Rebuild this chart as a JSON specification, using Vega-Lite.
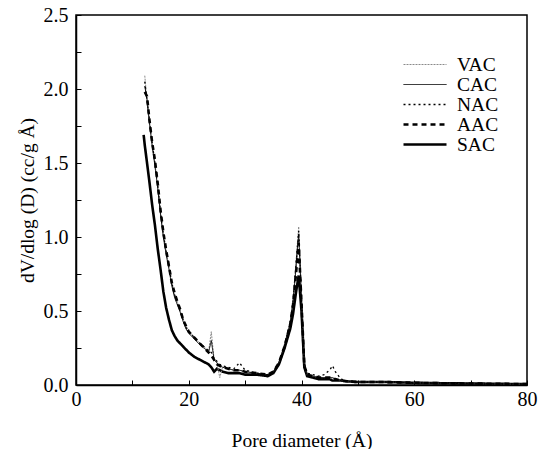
{
  "$schema": "https://vega.github.io/schema/vega-lite/v6.json",
  "width": 451,
  "height": 370,
  "autosize": {"type": "none"},
  "padding": {"left": 76, "top": 15, "right": 18, "bottom": 64},
  "background": "white",
  "config": {
    "font": "Liberation Serif",
    "view": {"stroke": "black", "strokeWidth": 1.5},
    "axis": {"grid": false, "domainColor": "black", "domainWidth": 1.5, "tickColor": "black", "labelColor": "black", "titleColor": "black", "labelFont": "Liberation Serif", "titleFont": "Liberation Serif", "labelFontSize": 20, "titleFontSize": 19.5, "titleFontWeight": "normal"}
  },
  "data": {"values": [
    {"x": 12.0, "SAC": 1.69},
    {"x": 12.2, "VAC": 2.09, "CAC": 2.02, "NAC": 2.05, "AAC": 1.98, "SAC": 1.62},
    {"x": 12.6, "VAC": 1.92, "CAC": 1.93, "NAC": 1.92, "AAC": 1.95, "SAC": 1.50},
    {"x": 13.0, "VAC": 1.78, "CAC": 1.78, "NAC": 1.80, "AAC": 1.80, "SAC": 1.38},
    {"x": 13.5, "VAC": 1.63, "CAC": 1.62, "NAC": 1.64, "AAC": 1.64, "SAC": 1.22},
    {"x": 14.0, "VAC": 1.50, "CAC": 1.48, "NAC": 1.50, "AAC": 1.52, "SAC": 1.08},
    {"x": 14.5, "VAC": 1.34, "CAC": 1.33, "NAC": 1.35, "AAC": 1.36, "SAC": 0.92},
    {"x": 15.0, "VAC": 1.16, "CAC": 1.15, "NAC": 1.17, "AAC": 1.18, "SAC": 0.78},
    {"x": 15.5, "VAC": 1.01, "CAC": 1.00, "NAC": 1.02, "AAC": 1.03, "SAC": 0.63},
    {"x": 16.0, "VAC": 0.90, "CAC": 0.88, "NAC": 0.90, "AAC": 0.91, "SAC": 0.52},
    {"x": 16.5, "VAC": 0.79, "CAC": 0.78, "NAC": 0.80, "AAC": 0.80, "SAC": 0.44},
    {"x": 17.0, "VAC": 0.68, "CAC": 0.67, "NAC": 0.69, "AAC": 0.69, "SAC": 0.37},
    {"x": 17.5, "VAC": 0.60, "CAC": 0.59, "NAC": 0.61, "AAC": 0.62, "SAC": 0.33},
    {"x": 18.0, "VAC": 0.56, "CAC": 0.54, "NAC": 0.55, "AAC": 0.56, "SAC": 0.30},
    {"x": 18.5, "VAC": 0.50, "CAC": 0.49, "NAC": 0.50, "AAC": 0.51, "SAC": 0.28},
    {"x": 19.0, "VAC": 0.45, "CAC": 0.43, "NAC": 0.44, "AAC": 0.44, "SAC": 0.26},
    {"x": 19.5, "VAC": 0.40, "CAC": 0.38, "NAC": 0.39, "AAC": 0.40, "SAC": 0.24},
    {"x": 20.0, "VAC": 0.37, "CAC": 0.35, "NAC": 0.36, "AAC": 0.36, "SAC": 0.22},
    {"x": 21.0, "VAC": 0.32, "CAC": 0.31, "NAC": 0.32, "AAC": 0.32, "SAC": 0.19},
    {"x": 22.0, "VAC": 0.28, "CAC": 0.27, "NAC": 0.28, "AAC": 0.28, "SAC": 0.17},
    {"x": 23.0, "VAC": 0.25, "CAC": 0.24, "NAC": 0.25, "AAC": 0.24, "SAC": 0.15},
    {"x": 23.5, "VAC": 0.22, "CAC": 0.22, "NAC": 0.23, "AAC": 0.22, "SAC": 0.14},
    {"x": 24.0, "VAC": 0.36, "CAC": 0.30, "NAC": 0.22, "AAC": 0.20, "SAC": 0.12},
    {"x": 24.5, "VAC": 0.17, "CAC": 0.17, "NAC": 0.18, "AAC": 0.17, "SAC": 0.09},
    {"x": 25.0, "VAC": 0.15, "CAC": 0.15, "NAC": 0.16, "AAC": 0.14, "SAC": 0.11},
    {"x": 25.5, "VAC": 0.05, "CAC": 0.13, "NAC": 0.14, "AAC": 0.13, "SAC": 0.10},
    {"x": 26.0, "VAC": 0.12, "CAC": 0.12, "NAC": 0.13, "AAC": 0.12, "SAC": 0.09},
    {"x": 27.0, "VAC": 0.11, "CAC": 0.11, "NAC": 0.12, "AAC": 0.11, "SAC": 0.08},
    {"x": 28.0, "VAC": 0.10, "CAC": 0.10, "NAC": 0.11, "AAC": 0.10, "SAC": 0.08},
    {"x": 29.0, "VAC": 0.10, "CAC": 0.10, "NAC": 0.15, "AAC": 0.10, "SAC": 0.08},
    {"x": 30.0, "VAC": 0.09, "CAC": 0.09, "NAC": 0.10, "AAC": 0.09, "SAC": 0.07},
    {"x": 32.0, "VAC": 0.08, "CAC": 0.08, "NAC": 0.08, "AAC": 0.08, "SAC": 0.07},
    {"x": 34.0, "VAC": 0.07, "CAC": 0.07, "NAC": 0.07, "AAC": 0.07, "SAC": 0.06},
    {"x": 35.0, "VAC": 0.09, "CAC": 0.09, "NAC": 0.09, "AAC": 0.09, "SAC": 0.08},
    {"x": 36.0, "VAC": 0.15, "CAC": 0.15, "NAC": 0.15, "AAC": 0.15, "SAC": 0.14},
    {"x": 37.0, "VAC": 0.28, "CAC": 0.27, "NAC": 0.27, "AAC": 0.26, "SAC": 0.25},
    {"x": 38.0, "VAC": 0.43, "CAC": 0.42, "NAC": 0.42, "AAC": 0.41, "SAC": 0.38},
    {"x": 38.5, "VAC": 0.58, "CAC": 0.56, "NAC": 0.57, "AAC": 0.54, "SAC": 0.48},
    {"x": 39.0, "VAC": 0.82, "CAC": 0.78, "NAC": 0.80, "AAC": 0.74, "SAC": 0.62},
    {"x": 39.5, "VAC": 1.07, "CAC": 1.02, "NAC": 1.04, "AAC": 0.96, "SAC": 0.74},
    {"x": 40.0, "VAC": 0.60, "CAC": 0.58, "NAC": 0.60, "AAC": 0.55, "SAC": 0.50},
    {"x": 40.5, "VAC": 0.14, "CAC": 0.14, "NAC": 0.15, "AAC": 0.13, "SAC": 0.12},
    {"x": 41.0, "VAC": 0.07, "CAC": 0.07, "NAC": 0.08, "AAC": 0.07, "SAC": 0.06},
    {"x": 42.0, "VAC": 0.06, "CAC": 0.06, "NAC": 0.07, "AAC": 0.06, "SAC": 0.05},
    {"x": 43.0, "VAC": 0.05, "CAC": 0.05, "NAC": 0.06, "AAC": 0.05, "SAC": 0.04},
    {"x": 44.0, "VAC": 0.05, "CAC": 0.05, "NAC": 0.07, "AAC": 0.05, "SAC": 0.04},
    {"x": 45.0, "VAC": 0.05, "CAC": 0.05, "NAC": 0.10, "AAC": 0.05, "SAC": 0.04},
    {"x": 45.5, "VAC": 0.04, "CAC": 0.05, "NAC": 0.13, "AAC": 0.04, "SAC": 0.03},
    {"x": 46.0, "VAC": 0.04, "CAC": 0.04, "NAC": 0.09, "AAC": 0.04, "SAC": 0.03},
    {"x": 47.0, "VAC": 0.03, "CAC": 0.03, "NAC": 0.04, "AAC": 0.03, "SAC": 0.03},
    {"x": 48.0, "VAC": 0.025, "CAC": 0.025, "NAC": 0.03, "AAC": 0.025, "SAC": 0.025},
    {"x": 50.0, "VAC": 0.02, "CAC": 0.02, "NAC": 0.02, "AAC": 0.02, "SAC": 0.02},
    {"x": 55.0, "VAC": 0.02, "CAC": 0.02, "NAC": 0.02, "AAC": 0.02, "SAC": 0.02},
    {"x": 60.0, "VAC": 0.015, "CAC": 0.015, "NAC": 0.015, "AAC": 0.015, "SAC": 0.015},
    {"x": 65.0, "VAC": 0.012, "CAC": 0.012, "NAC": 0.012, "AAC": 0.012, "SAC": 0.012},
    {"x": 70.0, "VAC": 0.01, "CAC": 0.01, "NAC": 0.01, "AAC": 0.01, "SAC": 0.01},
    {"x": 75.0, "VAC": 0.008, "CAC": 0.008, "NAC": 0.008, "AAC": 0.008, "SAC": 0.008},
    {"x": 80.0, "VAC": 0.006, "CAC": 0.006, "NAC": 0.006, "AAC": 0.006, "SAC": 0.006}
  ]},
  "transform": [
    {"fold": ["VAC", "CAC", "NAC", "AAC", "SAC"], "as": ["s", "v"]},
    {"filter": "isValid(datum.v)"}
  ],
  "mark": {"type": "line", "interpolate": "linear"},
  "encoding": {
    "x": {"field": "x", "type": "quantitative", "scale": {"domain": [0, 80], "nice": false},
      "axis": {"title": "Pore diameter (Å)", "values": [0, 10, 20, 30, 40, 50, 60, 70, 80], "labelExpr": "datum.value % 20 === 0 ? datum.label : ''", "tickSize": -5, "labelPadding": 9, "titlePadding": 22, "labelFlush": false}},
    "y": {"field": "v", "type": "quantitative", "scale": {"domain": [0, 2.5], "nice": false},
      "axis": {"title": "dV/dlog (D) (cc/g Å)", "values": [0, 0.25, 0.5, 0.75, 1, 1.25, 1.5, 1.75, 2, 2.25, 2.5], "labelExpr": "(datum.value * 2) % 1 === 0 ? format(datum.value, '.1f') : ''", "tickSize": -5, "labelPadding": 13, "titlePadding": 6, "labelFlush": false}},
    "color": {"field": "s", "type": "nominal", "scale": {"domain": ["VAC", "CAC", "NAC", "AAC", "SAC"], "range": ["#8a8a8a", "black", "black", "black", "black"]},
      "legend": {"title": null, "orient": "none", "legendX": 326, "legendY": 41, "symbolType": "stroke", "symbolSize": 1849, "clipHeight": 17, "labelFontSize": 19.5, "labelFont": "Liberation Serif", "labelColor": "black", "rowPadding": 0, "labelOffset": 9}},
    "strokeDash": {"field": "s", "type": "nominal", "scale": {"domain": ["VAC", "CAC", "NAC", "AAC", "SAC"], "range": [[2, 1], [1, 0], [2, 3], [5, 4], [1, 0]]}, "legend": {"title": null}},
    "strokeWidth": {"field": "s", "type": "nominal", "scale": {"type": "ordinal", "domain": ["VAC", "CAC", "NAC", "AAC", "SAC"], "range": [1, 1, 1.3, 2.6, 2.6]}, "legend": {"title": null}}
  }
}
